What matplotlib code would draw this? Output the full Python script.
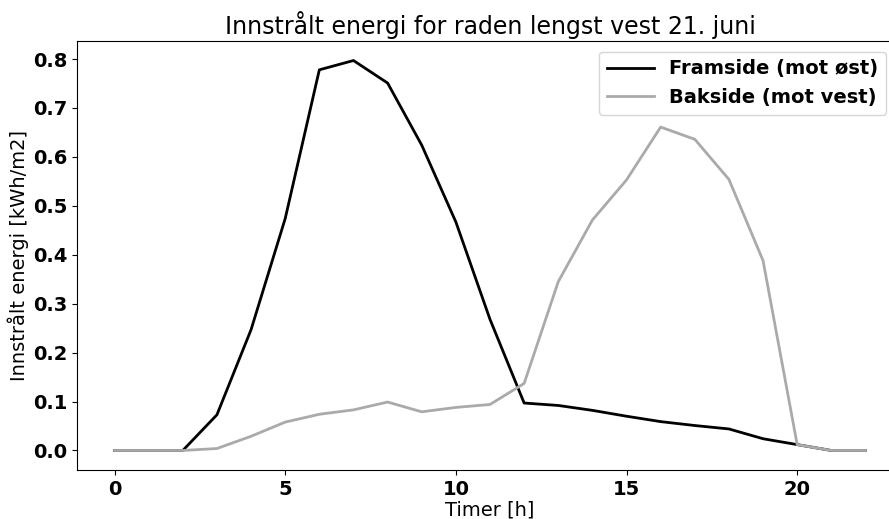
import matplotlib
matplotlib.use("Agg")
import matplotlib.pyplot as plt

hours = list(range(23))
framside = [0, 0, 0, 0.073, 0.247, 0.474, 0.778, 0.797, 0.751, 0.624, 0.467, 0.268, 0.097,
            0.092, 0.082, 0.070, 0.059, 0.051, 0.044, 0.024, 0.012, 0.0, 0.0]
bakside = [0, 0, 0, 0.004, 0.029, 0.058, 0.074, 0.083, 0.099, 0.079, 0.088, 0.094, 0.137,
           0.345, 0.471, 0.553, 0.661, 0.636, 0.554, 0.388, 0.012, 0.0, 0.0]

title = "Innstrålt energi for raden lengst vest 21. juni"
xlabel = "Timer [h]"
ylabel = "Innstrålt energi [kWh/m2]"
labels = ["Framside (mot øst)", "Bakside (mot vest)"]

fig = plt.figure(figsize=(8.89, 5.19), dpi=100)
ax = fig.add_axes([77/889, 1-470/519, 826/889, 429/519])
ax.plot(hours, framside, color="black", lw=2, label=labels[0])
ax.plot(hours, bakside, color="#aaaaaa", lw=2, label=labels[1])
ax.set_xlim(-1.1, 23.1)
ax.set_ylim(-0.0399, 0.8369)
ax.set_xticks([0, 5, 10, 15, 20])
ax.set_yticks([0.0, 0.1, 0.2, 0.3, 0.4, 0.5, 0.6, 0.7, 0.8])
for lab in ax.get_xticklabels() + ax.get_yticklabels():
    lab.set_fontweight("bold")
    lab.set_fontsize(14)
ax.set_title(title, fontsize=17, pad=5)
ax.set_xlabel(xlabel, fontsize=14, labelpad=1)
ax.set_ylabel(ylabel, fontsize=14, labelpad=3)
ax.legend(loc="upper right", prop={"weight": "bold", "size": 14},
          bbox_to_anchor=((896-77)/826, 0.998), handlelength=2.4)
fig.savefig("out.png", dpi=100)
